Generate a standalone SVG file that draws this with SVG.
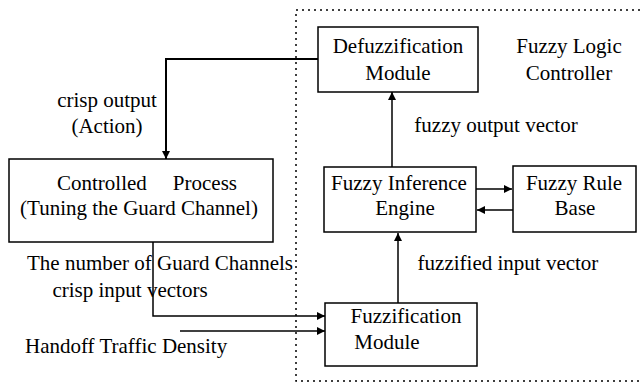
<svg xmlns="http://www.w3.org/2000/svg" width="642" height="383" viewBox="0 0 642 383">
<defs>
<style>
.box{fill:#fff;stroke:#000;stroke-width:1.5}
.t{font-family:'Liberation Serif','DejaVu Serif','Times New Roman',serif;font-size:21px;fill:#000}
.c{stroke:#000;stroke-width:1.5;fill:none}
.frame{fill:none;stroke:#000;stroke-width:1.5;stroke-dasharray:2 4}
</style>
<marker id="ah" viewBox="0 0 10 10" refX="10" refY="5" markerWidth="8" markerHeight="8" markerUnits="userSpaceOnUse" orient="auto">
<path d="M0,0 L10,5 L0,10 z" fill="#000"/>
</marker>
</defs>
<rect width="642" height="383" fill="#fff"/>
<rect class="frame" x="296" y="10" width="352" height="371"/>
<g id="connectors">
<path class="c" d="M318,59 H166 V159" marker-end="url(#ah)" style="stroke-width:2"/>
<path class="c" d="M392,167 V92" marker-end="url(#ah)"/>
<path class="c" d="M476,189 H512" marker-end="url(#ah)"/>
<path class="c" d="M513,210 H477" marker-end="url(#ah)"/>
<path class="c" d="M398,303 V233" marker-end="url(#ah)"/>
<path class="c" d="M153,242 V316 H325" marker-end="url(#ah)"/>
<path class="c" d="M180,331 H325" marker-end="url(#ah)"/>
</g>
<g font-family="Liberation Serif, DejaVu Serif, serif">
<g id="defuzz">
<rect class="box" x="318" y="27" width="160" height="65"/>
<text class="t" x="398" y="53" text-anchor="middle">Defuzzification</text>
<text class="t" x="398" y="80" text-anchor="middle">Module</text>
</g>
<g id="flc-label">
<text class="t" x="569" y="53" text-anchor="middle">Fuzzy Logic</text>
<text class="t" x="569" y="80" text-anchor="middle">Controller</text>
</g>
<g id="process">
<rect class="box" x="9" y="159" width="264" height="83"/>
<text class="t" x="57" y="190">Controlled</text>
<text class="t" x="237" y="190" text-anchor="end">Process</text>
<text class="t" x="139" y="215" text-anchor="middle">(Tuning the Guard Channel)</text>
</g>
<g id="inference">
<rect class="box" x="324" y="167" width="152" height="65"/>
<text class="t" x="399" y="190" text-anchor="middle">Fuzzy Inference</text>
<text class="t" x="405" y="215" text-anchor="middle">Engine</text>
</g>
<g id="rulebase">
<rect class="box" x="513" y="166" width="123" height="66"/>
<text class="t" x="574" y="190" text-anchor="middle">Fuzzy Rule</text>
<text class="t" x="575" y="215" text-anchor="middle">Base</text>
</g>
<g id="fuzzification">
<rect class="box" x="325" y="303" width="152" height="63"/>
<text class="t" x="406" y="323" text-anchor="middle">Fuzzification</text>
<text class="t" x="387" y="349" text-anchor="middle">Module</text>
</g>
<g id="labels">
<text class="t" x="107" y="107" text-anchor="middle">crisp output</text>
<text class="t" x="107" y="133" text-anchor="middle">(Action)</text>
<text class="t" x="496" y="132" text-anchor="middle">fuzzy output vector</text>
<text class="t" x="508" y="270" text-anchor="middle">fuzzified input vector</text>
<text class="t" x="160" y="270" text-anchor="middle">The number of Guard Channels</text>
<text class="t" x="130" y="297" text-anchor="middle">crisp input vectors</text>
<text class="t" x="25" y="353">Handoff Traffic Density</text>
</g>
</g>
</svg>
